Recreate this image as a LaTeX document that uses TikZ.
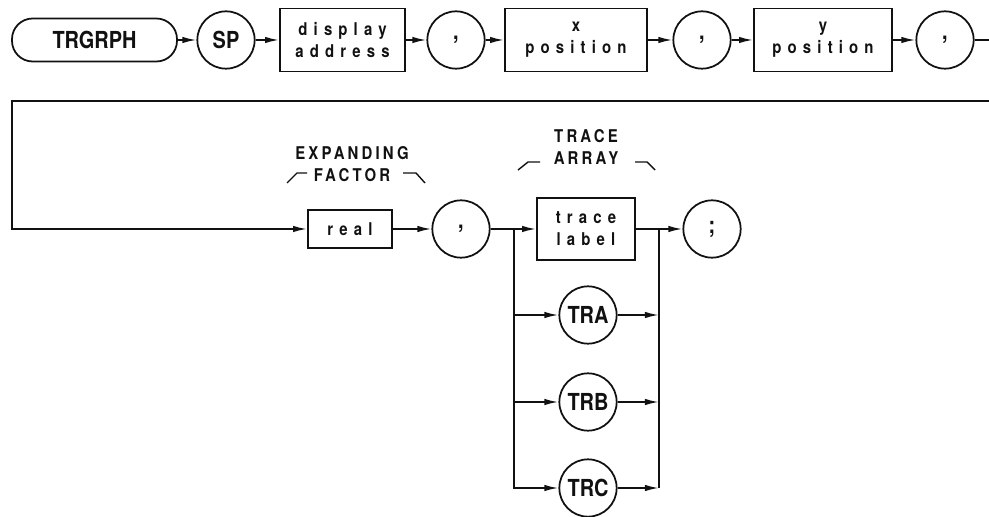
\documentclass[tikz,border=0pt]{standalone}
\usepackage{fontspec}
\setmainfont{TeX Gyre Heros}[FakeStretch=0.85]
\newfontfamily\spacedfont{TeX Gyre Heros}[FakeStretch=0.85,LetterSpace=35]
\newfontfamily\capsfont{TeX Gyre Heros}[FakeStretch=0.85,LetterSpace=18]
\usepackage{tikz}
\usetikzlibrary{arrows.meta,positioning}
\definecolor{Ink}{HTML}{111111}

\begin{document}
\begin{tikzpicture}[x=0.03cm,y=-0.03cm,>={Latex[length=12pt,width=5.5pt]},
  color=Ink,line width=1.5pt,
  every node/.style={font=\bfseries,align=center},
  keyword/.style={draw,rounded corners=0.62cm,minimum width=4.95cm,
    minimum height=1.29cm,font=\bfseries\fontsize{20}{23}\selectfont},
  literal/.style={draw,circle,minimum size=1.72cm,inner sep=0pt,
    font=\bfseries\fontsize{20}{23}\selectfont},
  param/.style={draw,minimum height=1.89cm,
    font=\spacedfont\bfseries\fontsize{15}{19}\selectfont},
  group/.style={font=\capsfont\bfseries\fontsize{15}{19}\selectfont}]
  \useasboundingbox (0,0) rectangle (989,517);
  % first line of the syntax
  \node[keyword] (trgrph) at (94.5,40) {TRGRPH};
  \node[literal] (sp) at (226,40) {SP};
  \node[param,minimum width=3.75cm] (dispaddr) at (342.5,40) {display\\address};
  \node[literal] (commaA) at (456,40) {,};
  \node[param,minimum width=4.26cm] (xpos) at (576,40) {x\\position};
  \node[literal] (commaB) at (702,40) {,};
  \node[param,minimum width=4.14cm] (ypos) at (823,40) {y\\position};
  \node[literal] (commaC) at (945,40) {,};
  % second line
  \node[param,minimum width=2.52cm,minimum height=1.14cm] (real) at (350,229) {real};
  \node[literal] (commaD) at (461,229) {,};
  \node[param,minimum width=2.94cm,minimum height=1.86cm] (tlabel) at (586,229) {trace\\label};
  \node[literal] (semi) at (712,229) {;};
  \node[literal] (tra) at (588,315) {TRA};
  \node[literal] (trb) at (588,402) {TRB};
  \node[literal] (trc) at (588,488) {TRC};
  \node[group] (expfac) at (352,164) {EXPANDING\\FACTOR};
  \node[group] (trarr) at (586,147) {TRACE\\ARRAY};
  \draw[line width=1.2pt] (287,183) -- (297,173) -- (307,173);
  \draw[line width=1.2pt] (403,173) -- (416,173) -- (425,183);
  \draw[line width=1.2pt] (518,170) -- (528,162) -- (540,162);
  \draw[line width=1.2pt] (635,162) -- (647,162) -- (655,170);
  \coordinate (exitR) at (989,40);
  \coordinate (backR) at (989,101);
  \coordinate (backL) at (12,101);
  \coordinate (downL) at (12,229);
  \coordinate (splitL) at (514,229);
  \coordinate (joinR) at (659,229);
  \draw[->] (trgrph) -- (sp);
  \draw[->] (sp) -- (dispaddr);
  \draw[->] (dispaddr) -- (commaA);
  \draw[->] (commaA) -- (xpos);
  \draw[->] (xpos) -- (commaB);
  \draw[->] (commaB) -- (ypos);
  \draw[->] (ypos) -- (commaC);
  \draw (commaC) -- (exitR);
  \draw[->] (backR) -- (backL) -- (downL) -- (real);
  \draw[->] (real) -- (commaD);
  \draw (commaD) -- (splitL);
  \draw[->] (splitL) -- (tlabel);
  \draw (tlabel) -- (joinR);
  \draw[->] (joinR) -- (semi);
  \draw[->] (splitL) |- (trc);
  \draw[->] (splitL |- tra) -- (tra);
  \draw[->] (splitL |- trb) -- (trb);
  \draw (joinR) -- (joinR |- trc);
  \foreach \n in {tra,trb,trc} \draw[->] (\n) -- (joinR |- \n);
\end{tikzpicture}
\end{document}
